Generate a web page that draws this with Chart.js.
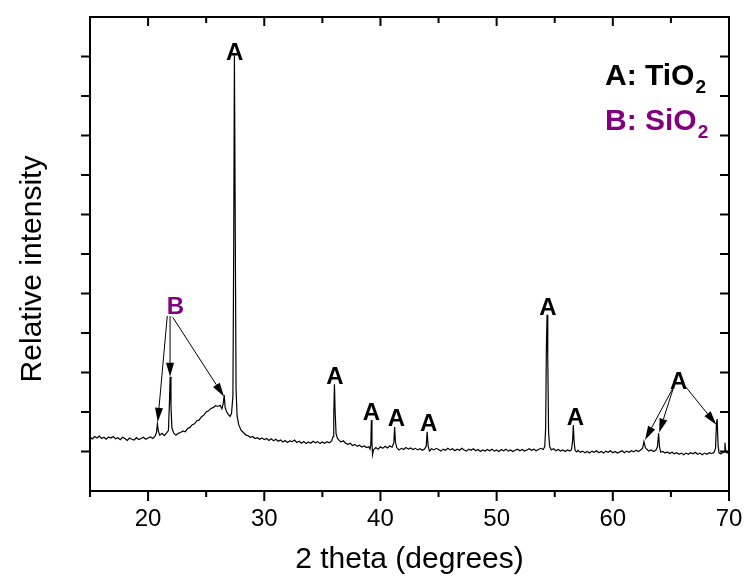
<!DOCTYPE html>
<html>
<head>
<meta charset="utf-8">
<script src="https://cdn.jsdelivr.net/npm/chart.js@4.4.1/dist/chart.umd.min.js"></script>
<style>
  body { margin: 0; background: #fff; }
</style>
</head>
<body>
<canvas id="xrdChart" width="744" height="579"></canvas>
<script>
// XRD scan, 2 theta vs relative intensity
const twoTheta = [
  15.0, 15.2, 15.4, 15.6, 15.8, 16.0, 16.2, 16.4, 16.6, 16.8, 17.0, 17.2, 17.4, 17.6, 17.8, 18.0, 18.2, 18.4, 18.6, 18.8, 19.0, 19.2, 19.4, 19.6, 19.8, 20.0, 20.2, 20.4, 20.6,
  20.72, 20.8, 20.88, 21.0, 21.2, 21.4, 21.6, 21.75, 21.84, 21.9, 21.97, 22.05, 22.2, 22.4, 22.6, 22.8, 23.0, 23.2, 23.4, 23.6, 23.8, 24.0, 24.2, 24.4, 24.6, 24.8, 25.0, 25.2, 25.4, 25.6, 25.8, 26.0, 26.2, 26.35, 26.47, 26.55, 26.63, 26.75, 26.9, 27.05, 27.18,
  27.3, 27.37, 27.43, 27.5, 27.57, 27.66, 27.8, 28.0, 28.2, 28.4, 28.6, 28.8, 29.0, 29.2, 29.4, 29.6, 29.8, 30.0,
  30.2, 30.4, 30.6, 30.8, 31.0, 31.2, 31.4, 31.6, 31.8, 32.0, 32.2, 32.4, 32.6, 32.8, 33.0, 33.2, 33.4, 33.6, 33.8, 34.0, 34.2, 34.4, 34.6, 34.8, 35.0, 35.2, 35.4, 35.6, 35.8,
  35.92, 35.98, 36.04, 36.1, 36.18, 36.3, 36.45, 36.6, 36.8, 37.0, 37.2, 37.4, 37.6, 37.8, 38.0, 38.2, 38.4, 38.6, 38.8, 39.0, 39.1,
  39.17, 39.22, 39.27, 39.32, 39.4, 39.6, 39.8, 40.0, 40.2, 40.4, 40.6, 40.8, 41.0, 41.15, 41.22, 41.29, 41.4, 41.6, 41.8, 42.0, 42.2, 42.4, 42.6, 42.8, 43.0, 43.2, 43.4, 43.6, 43.8, 43.94, 44.02, 44.1, 44.22, 44.4, 44.6, 44.8, 45.0,
  45.2, 45.4, 45.6, 45.8, 46.0, 46.2, 46.4, 46.6, 46.8, 47.0, 47.2, 47.4, 47.6, 47.8, 48.0, 48.2, 48.4, 48.6, 48.8, 49.0, 49.2, 49.4, 49.6, 49.8, 50.0, 50.2, 50.4, 50.6, 50.8, 51.0, 51.2, 51.4, 51.6, 51.8, 52.0, 52.2, 52.4, 52.6, 52.8, 53.0, 53.2, 53.4, 53.6, 53.8, 54.0,
  54.14, 54.22, 54.28, 54.34, 54.4, 54.47, 54.56, 54.7, 54.9, 55.1, 55.3, 55.5, 55.7, 55.9, 56.1, 56.3, 56.45, 56.54, 56.6, 56.67, 56.76, 56.9,
  57.0, 57.2, 57.4, 57.6, 57.8, 58.0, 58.2, 58.4, 58.6, 58.8, 59.0, 59.2, 59.4, 59.6, 59.8, 60.0, 60.2, 60.4, 60.6, 60.8, 61.0, 61.2, 61.4, 61.6, 61.8, 62.0, 62.2, 62.4,
  62.56, 62.68, 62.8, 62.95, 63.1, 63.3, 63.5, 63.7, 63.84, 63.94, 64.02, 64.12, 64.3, 64.5, 64.7, 64.9, 65.1, 65.3, 65.5, 65.7, 65.9, 66.1, 66.3, 66.5, 66.7, 66.9, 67.1, 67.3, 67.5, 67.7, 67.9, 68.1, 68.3, 68.5, 68.7, 68.84, 68.92, 68.98, 69.06, 69.15, 69.3, 69.45, 69.57, 69.65, 69.72, 69.85, 70.0
];
const intensity = [
  136, 132, 138, 134, 139, 133, 136, 131, 137, 134, 138, 132, 135, 130, 136, 133, 128, 134, 131, 129, 135, 130, 133, 136, 131, 134, 137, 133, 139,
  148, 170, 152, 141, 146, 140, 147, 153, 225, 289, 215, 160, 147, 141, 146, 148, 152, 150, 158, 161, 168, 170, 178, 180, 188, 192, 200, 203, 209, 211, 216, 214, 217, 208, 222, 243, 212, 201, 194, 189, 196,
  240, 620, 1104, 680, 260, 190, 168, 154, 148, 142, 140, 136, 138, 133, 135, 131, 134, 130,
  133, 128, 132, 127, 131, 126, 129, 124, 128, 123, 127, 125, 129, 123, 126, 121, 125, 120, 124, 121, 126, 122, 125, 120, 124, 121, 125, 122, 127,
  138, 190, 270, 200, 145, 133, 128, 124, 127, 121, 118, 121, 115, 118, 113, 116, 111, 114, 110, 112, 106,
  118, 180, 120, 92, 104, 110, 106, 112, 108, 113, 109, 114, 111, 122, 162, 124, 110, 104, 108, 105, 110, 106, 109, 105, 108, 104, 107, 103, 106, 114, 150, 114, 101, 107, 104, 108, 105,
  101, 106, 103, 108, 104, 107, 102, 106, 103, 108, 104, 101, 106, 103, 107, 102, 105, 100, 104, 101, 105, 102, 106, 101, 104, 100, 105, 102, 106, 101, 104, 100, 103, 106, 102, 105, 101, 104, 107, 103, 106, 102, 105, 108, 105,
  112, 160, 360, 446, 340, 150, 113, 104, 107, 102, 105, 101, 104, 100, 104, 101, 105, 128, 167, 124, 102, 99,
  103, 98, 101, 97, 100, 96, 101, 98, 102, 97, 100, 96, 101, 98, 102, 97, 100, 96, 99, 102, 97, 101, 98, 102, 99, 103, 100, 104,
  108, 125, 110, 105, 101, 104, 100, 103, 112, 146, 112, 98, 100, 96, 99, 95, 98, 94, 97, 93, 96, 92, 96, 93, 97, 94, 98, 93, 96, 92, 96, 93, 97, 95, 97, 108, 170, 182, 115, 96, 94, 97, 99, 122, 100, 96, 98
];

const xTicks = [20, 30, 40, 50, 60, 70];
const xMinorTicks = [15, 25, 35, 45, 55, 65];
const yTicks = [100, 200, 300, 400, 500, 600, 700, 800, 900, 1000, 1100];

// peak labels: [text, 2theta, height]
const peakLabels = [
  ['A', 27.45, 1110], ['A', 36.09, 289], ['A', 39.23, 200], ['A', 41.38, 185],
  ['A', 44.14, 172], ['A', 54.42, 465], ['A', 56.77, 186], ['A', 65.67, 278],
  ['B', 22.36, 467]
];
// arrows: [from 2theta, from height, to 2theta, to height]
const arrows = [
  [21.65, 443, 20.83, 175], [21.89, 443, 21.89, 289], [22.12, 440, 26.53, 239],
  [65.13, 258, 62.77, 129], [65.18, 258, 63.99, 148], [66.18, 267, 68.91, 168]
];
const legendItems = [['A: TiO', '#000'], ['B: SiO', '#800080']];

const FONT = 'Arial, "Liberation Sans", sans-serif';
const PURPLE = '#800080';

function arrow(ctx, x1, y1, x2, y2) {
  const ang = Math.atan2(y2 - y1, x2 - x1);
  const len = 14, half = 4;
  const bx = x2 - len * Math.cos(ang), by = y2 - len * Math.sin(ang);
  ctx.beginPath();
  ctx.moveTo(x1, y1);
  ctx.lineTo(bx, by);
  ctx.stroke();
  ctx.beginPath();
  ctx.moveTo(x2, y2);
  ctx.lineTo(bx + half * Math.sin(ang), by - half * Math.cos(ang));
  ctx.lineTo(bx - half * Math.sin(ang), by + half * Math.cos(ang));
  ctx.closePath();
  ctx.fill();
}

const decorations = {
  id: 'decorations',
  afterDraw(chart) {
    const { ctx, chartArea: a, scales: { x, y } } = chart;
    ctx.save();
    ctx.strokeStyle = '#000';
    ctx.fillStyle = '#000';

    // frame
    ctx.lineWidth = 2;
    ctx.strokeRect(a.left, a.top, a.right - a.left, a.bottom - a.top);

    // ticks
    ctx.beginPath();
    xTicks.forEach(v => {
      const px = x.getPixelForValue(v);
      ctx.moveTo(px, a.bottom); ctx.lineTo(px, a.bottom + 10);
      ctx.moveTo(px, a.top); ctx.lineTo(px, a.top + 9);
    });
    xMinorTicks.forEach(v => {
      const px = x.getPixelForValue(v);
      ctx.moveTo(px, a.bottom); ctx.lineTo(px, a.bottom + 6);
      ctx.moveTo(px, a.top); ctx.lineTo(px, a.top + 6);
    });
    yTicks.forEach(v => {
      const py = y.getPixelForValue(v);
      ctx.moveTo(a.left - 9, py); ctx.lineTo(a.left, py);
      ctx.moveTo(a.right - 9, py); ctx.lineTo(a.right, py);
    });
    ctx.stroke();

    // y title
    ctx.save();
    ctx.translate(41, 269);
    ctx.rotate(-Math.PI / 2);
    ctx.font = '30px ' + FONT;
    ctx.textAlign = 'center';
    ctx.textBaseline = 'alphabetic';
    ctx.fillText('Relative intensity', 0, 0);
    ctx.restore();

    // arrows
    ctx.lineWidth = 1;
    arrows.forEach(([t1, h1, t2, h2]) => {
      arrow(ctx, x.getPixelForValue(t1), y.getPixelForValue(h1),
        x.getPixelForValue(t2), y.getPixelForValue(h2));
    });

    // peak labels
    ctx.font = 'bold 24px ' + FONT;
    ctx.textAlign = 'center';
    ctx.textBaseline = 'middle';
    peakLabels.forEach(([txt, t, h]) => {
      ctx.fillStyle = txt === 'B' ? PURPLE : '#000';
      ctx.fillText(txt, x.getPixelForValue(t), y.getPixelForValue(h) + 1);
    });

    // phase key
    ctx.textAlign = 'left';
    ctx.textBaseline = 'alphabetic';
    legendItems.forEach(([txt, col], i) => {
      const bx = a.right - 124, by = a.top + 68 + i * 45;
      ctx.fillStyle = col;
      ctx.font = 'bold 30px ' + FONT;
      ctx.fillText(txt, bx, by);
      const w = ctx.measureText(txt).width;
      ctx.font = 'bold 19px ' + FONT;
      ctx.fillText('2', bx + w + 1, by + 8);
    });
    ctx.restore();
  }
};

new Chart(document.getElementById('xrdChart'), {
  type: 'line',
  data: {
    datasets: [{
      data: twoTheta.map((t, i) => ({ x: t, y: intensity[i] })),
      borderColor: '#000',
      borderWidth: 1.2,
      pointRadius: 0,
      tension: 0
    }]
  },
  options: {
    responsive: false,
    animation: false,
    layout: { padding: { left: 0, right: 15, top: 17, bottom: 0 } },
    plugins: { legend: { display: false }, tooltip: { enabled: false } },
    scales: {
      x: {
        type: 'linear',
        min: 15,
        max: 70,
        afterBuildTicks: s => { s.ticks = xTicks.map(v => ({ value: v })); },
        afterFit: s => { s.height = 88; s.paddingLeft = 0; s.paddingRight = 0; },
        grid: { display: false, drawTicks: false },
        border: { display: false },
        ticks: { color: '#000', font: { family: FONT, size: 24 }, padding: 14, maxRotation: 0, autoSkip: false },
        title: { display: true, text: '2 theta (degrees)', color: '#000', font: { family: FONT, size: 30 }, padding: { top: 0, bottom: 1 } }
      },
      y: {
        min: 0,
        max: 1200,
        afterFit: s => { s.width = 90; },
        grid: { display: false, drawTicks: false },
        border: { display: false },
        ticks: { display: false, stepSize: 100 }
      }
    }
  },
  plugins: [decorations]
});
</script>
</body>
</html>
